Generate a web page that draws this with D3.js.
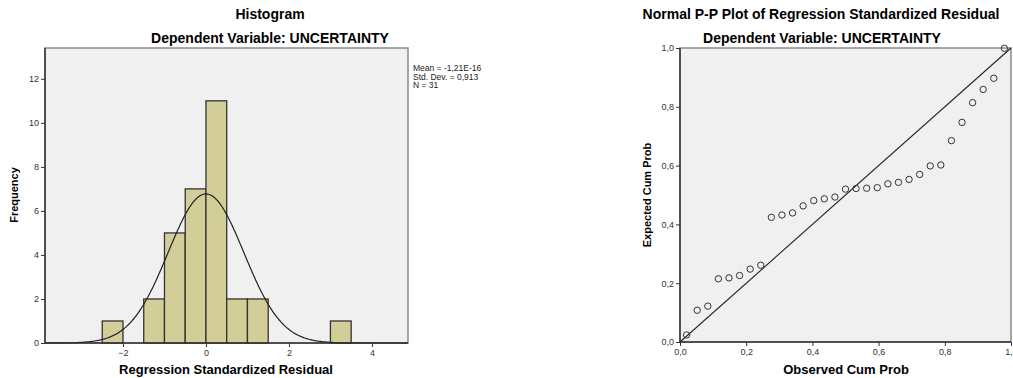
<!DOCTYPE html>
<html><head><meta charset="utf-8">
<script src="https://cdn.jsdelivr.net/npm/d3@7"></script>
<style>
body{margin:0;background:#fff;}
text{font-family:"Liberation Sans",Arial,sans-serif;}
</style></head>
<body><svg id="c" width="1013" height="378"></svg>
<script>
// Histogram data
const binStarts = [-2.5, -1.5, -1.0, -0.5, 0.0, 0.5, 1.0, 3.0];
const binCounts = [1, 2, 5, 7, 11, 2, 2, 1];
const binWidth = 0.5;
const histMean = 0, histSD = 0.913, histN = 31;
const histXTicks = [-2, 0, 2, 4];
const histYTicks = [0, 2, 4, 6, 8, 10, 12];
const legendLines = ["Mean = -1,21E-16", "Std. Dev. = 0,913", "N = 31"];

// P-P plot data
const observedCum = [0.020,0.052,0.084,0.116,0.148,0.180,0.212,0.244,0.276,0.308,0.340,0.372,0.404,0.436,0.468,0.500,0.532,0.564,0.596,0.628,0.660,0.692,0.724,0.756,0.788,0.820,0.852,0.884,0.916,0.948,0.980];
const expectedCum = [0.024,0.108,0.122,0.215,0.218,0.226,0.248,0.261,0.424,0.432,0.439,0.463,0.481,0.487,0.493,0.520,0.522,0.523,0.525,0.538,0.543,0.553,0.570,0.599,0.602,0.685,0.747,0.814,0.859,0.897,0.999];
const ppTicks = [0, 0.2, 0.4, 0.6, 0.8, 1.0];

const svg = d3.select("#c");
const fmtComma = d => d3.format(".1f")(d).replace(".", ",");
const bg = "#f0f0f0", tickCol = "#333";

function styleAxis(g){
  g.select(".domain").remove();
  g.selectAll(".tick line").attr("stroke", "#333");
  g.selectAll(".tick text").attr("fill", tickCol).style("font-size", "9px")
   .style("font-family", "'Liberation Sans',Arial,sans-serif");
}

// ---------- Histogram ----------
{
  const L = 45, R = 408, T = 48, B = 343;
  const x = d3.scaleLinear().domain([-3.88, 4.87]).range([L, R]);
  const y = d3.scaleLinear().domain([0, 13.4]).range([B, T]);
  svg.append("rect").attr("x", L).attr("y", T).attr("width", R - L).attr("height", B - T)
    .attr("fill", bg).attr("stroke", "#8a8a8a").attr("stroke-width", 1.5);
  svg.append("g").selectAll("rect").data(binStarts).join("rect")
    .attr("x", (d) => x(d)).attr("width", d => x(d + binWidth) - x(d))
    .attr("y", (d, i) => y(binCounts[i])).attr("height", (d, i) => y(0) - y(binCounts[i]))
    .attr("fill", "#d3ce98").attr("stroke", "#333").attr("stroke-width", 1.3);
  const pdf = v => histN * binWidth * Math.exp(-0.5 * ((v - histMean) / histSD) ** 2) / (histSD * Math.sqrt(2 * Math.PI));
  const xs = d3.range(-3.88, 4.87, 0.02);
  svg.append("path").datum(xs).attr("fill", "none").attr("stroke", "#222").attr("stroke-width", 1.2)
    .attr("d", d3.line().x(d => x(d)).y(d => y(pdf(d))));
  svg.append("line").attr("x1", L).attr("x2", L).attr("y1", T).attr("y2", B).attr("stroke", "#333").attr("stroke-width", 1.5);
  svg.append("line").attr("x1", L).attr("x2", R).attr("y1", B).attr("y2", B).attr("stroke", "#333").attr("stroke-width", 1.5);
  svg.append("g").attr("transform", `translate(${L},0)`)
    .call(d3.axisLeft(y).tickValues(histYTicks).tickSize(4).tickPadding(2)).call(styleAxis);
  svg.append("g").attr("transform", `translate(0,${B})`)
    .call(d3.axisBottom(x).tickValues(histXTicks).tickSize(4).tickPadding(3)).call(styleAxis);
  svg.append("text").attr("x", 270).attr("y", 19).attr("text-anchor", "middle")
    .style("font-size", "14px").style("font-weight", "bold").text("Histogram");
  svg.append("text").attr("x", 270).attr("y", 43).attr("text-anchor", "middle")
    .style("font-size", "14px").style("font-weight", "bold").text("Dependent Variable: UNCERTAINTY");
  svg.append("text").attr("x", 226).attr("y", 374).attr("text-anchor", "middle")
    .style("font-size", "13px").style("font-weight", "bold").text("Regression Standardized Residual");
  svg.append("text").attr("transform", "translate(18,195) rotate(-90)").attr("text-anchor", "middle")
    .style("font-size", "11px").style("font-weight", "bold").text("Frequency");
  svg.append("g").selectAll("text").data(legendLines).join("text")
    .attr("x", 413).attr("y", (d, i) => 71 + i * 8.5)
    .style("font-size", "8.5px").attr("fill", "#222").text(d => d);
}

// ---------- P-P plot ----------
{
  const L = 680, R = 1011, T = 48, B = 342;
  const x = d3.scaleLinear().domain([0, 1]).range([L, R]);
  const y = d3.scaleLinear().domain([0, 1]).range([B, T]);
  svg.append("rect").attr("x", L).attr("y", T).attr("width", R - L).attr("height", B - T)
    .attr("fill", bg).attr("stroke", "#8a8a8a").attr("stroke-width", 1.5);
  svg.append("line").attr("x1", x(0)).attr("y1", y(0)).attr("x2", x(1)).attr("y2", y(1))
    .attr("stroke", "#222").attr("stroke-width", 1.1);
  svg.append("g").selectAll("circle").data(observedCum).join("circle")
    .attr("cx", d => x(d)).attr("cy", (d, i) => y(expectedCum[i])).attr("r", 3.2)
    .attr("fill", "none").attr("stroke", "#333").attr("stroke-width", 1);
  svg.append("line").attr("x1", L).attr("x2", L).attr("y1", T).attr("y2", B).attr("stroke", "#333").attr("stroke-width", 1.5);
  svg.append("line").attr("x1", L).attr("x2", R).attr("y1", B).attr("y2", B).attr("stroke", "#333").attr("stroke-width", 1.5);
  svg.append("g").attr("transform", `translate(${L},0)`)
    .call(d3.axisLeft(y).tickValues(ppTicks).tickFormat(fmtComma).tickSize(4).tickPadding(2)).call(styleAxis);
  svg.append("g").attr("transform", `translate(0,${B})`)
    .call(d3.axisBottom(x).tickValues(ppTicks).tickFormat(fmtComma).tickSize(4).tickPadding(3)).call(styleAxis);
  svg.append("text").attr("x", 821).attr("y", 19).attr("text-anchor", "middle")
    .style("font-size", "14px").style("font-weight", "bold").text("Normal P-P Plot of Regression Standardized Residual");
  svg.append("text").attr("x", 822).attr("y", 43).attr("text-anchor", "middle")
    .style("font-size", "14px").style("font-weight", "bold").text("Dependent Variable: UNCERTAINTY");
  svg.append("text").attr("x", 846).attr("y", 374).attr("text-anchor", "middle")
    .style("font-size", "13px").style("font-weight", "bold").text("Observed Cum Prob");
  svg.append("text").attr("transform", "translate(651,195) rotate(-90)").attr("text-anchor", "middle")
    .style("font-size", "11px").style("font-weight", "bold").text("Expected Cum Prob");
}
</script></body></html>
